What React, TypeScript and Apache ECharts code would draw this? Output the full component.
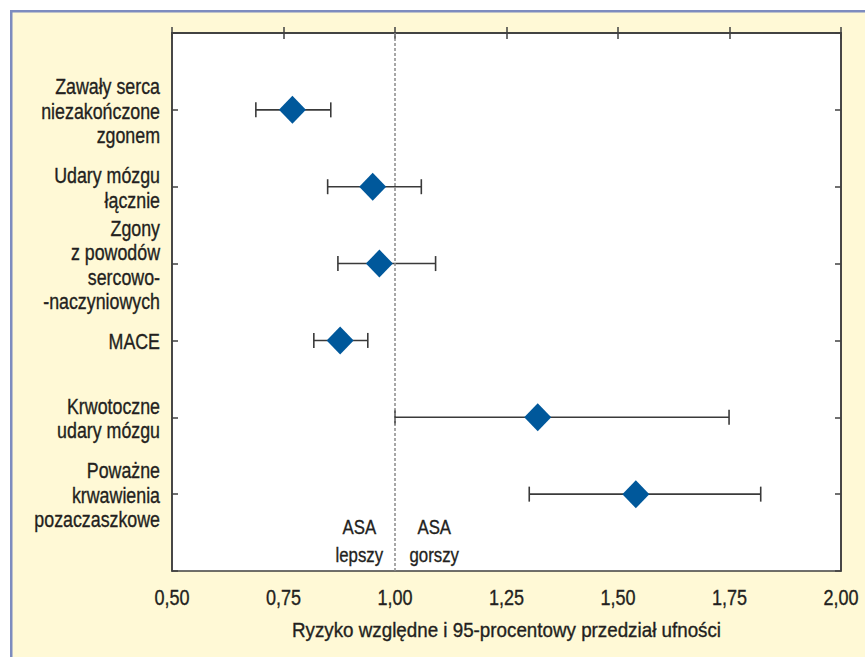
import React, { useEffect, useRef } from "react";
import * as echarts from "echarts";

const categories = [
  "Zawały serca\nniezakończone\nzgonem",
  "Udary mózgu\nłącznie",
  "Zgony\nz powodów\nsercowo-\n-naczyniowych",
  "MACE",
  "Krwotoczne\nudary mózgu",
  "Poważne\nkrwawienia\npozaczaszkowe",
];
const rowPositions = [1, 2, 3, 4, 5, 6];
const riskRatio = [0.77, 0.95, 0.965, 0.877, 1.32, 1.54];
const ciLow = [0.688, 0.849, 0.872, 0.818, 1.0, 1.301];
const ciHigh = [0.856, 1.059, 1.091, 0.939, 1.749, 1.82];
const xTicks = [0.5, 0.75, 1.0, 1.25, 1.5, 1.75, 2.0];
const referenceValue = 1.0;
const annotations = [
  { x: 0.92, y: 6.61, text: "ASA\nlepszy" },
  { x: 1.088, y: 6.61, text: "ASA\ngorszy" },
];
const xAxisName = "Ryzyko względne i 95-procentowy przedział ufności";

const FONT = "'Liberation Sans', Arial, Helvetica, sans-serif";
const TEXT = "#231f20";
const AXIS = "#404040";

export default function App() {
  const ref = useRef<HTMLDivElement>(null);
  useEffect(() => {
    if (!ref.current) return;
    const chart = echarts.init(ref.current, null, { renderer: "svg" });
    const fmt = (v: number) => v.toFixed(2).replace(".", ",");
    const axisCommon = {
      type: "value",
      axisLine: { show: true, lineStyle: { color: AXIS, width: 1.6 } },
      axisTick: { show: true, inside: true, length: 6, lineStyle: { color: AXIS, width: 1.5 } },
      splitLine: { show: false },
      axisLabel: { show: false },
    };
    chart.setOption({
      animation: false,
      backgroundColor: "#ffffff",
      grid: {
        left: 172,
        top: 33,
        width: 669,
        height: 538,
        show: true,
        backgroundColor: "#ffffff",
        borderColor: AXIS,
        borderWidth: 1.6,
      },
      xAxis: [
        { ...axisCommon, min: xTicks[0], max: xTicks[xTicks.length - 1], interval: 0.25, position: "bottom" },
        { ...axisCommon, min: xTicks[0], max: xTicks[xTicks.length - 1], interval: 0.25, position: "top" },
      ],
      yAxis: [
        { ...axisCommon, min: 0, max: 7, interval: 1, inverse: true, position: "left" },
        { ...axisCommon, min: 0, max: 7, interval: 1, inverse: true, position: "right" },
      ],
      series: [
        {
          type: "custom",
          xAxisIndex: 0,
          yAxisIndex: 0,
          data: rowPositions.map((y, i) => [ciLow[i], ciHigh[i], y]),
          encode: { x: [0, 1], y: 2 },
          renderItem: (params: any, api: any) => {
            const lo = api.coord([api.value(0), api.value(2)]);
            const hi = api.coord([api.value(1), api.value(2)]);
            const cap = 7.5;
            const style = { stroke: "#3a3a3a", lineWidth: 1.6 };
            return {
              type: "group",
              children: [
                { type: "line", shape: { x1: lo[0], y1: lo[1], x2: hi[0], y2: hi[1] }, style },
                { type: "line", shape: { x1: lo[0], y1: lo[1] - cap, x2: lo[0], y2: lo[1] + cap }, style },
                { type: "line", shape: { x1: hi[0], y1: hi[1] - cap, x2: hi[0], y2: hi[1] + cap }, style },
              ],
            };
          },
          markLine: {
            silent: true,
            symbol: "none",
            label: { show: false },
            lineStyle: { color: "#8a8a8a", type: [3, 2], width: 1.5 },
            data: [{ xAxis: referenceValue }],
          },
          z: 2,
        },
        {
          type: "scatter",
          xAxisIndex: 0,
          yAxisIndex: 0,
          symbol: "diamond",
          symbolSize: [27, 28],
          itemStyle: { color: "#00589b", opacity: 1 },
          data: rowPositions.map((y, i) => [riskRatio[i], y]),
          z: 3,
        },
      ],
    });

    const px = (x: number, y: number) =>
      chart.convertToPixel({ xAxisIndex: 0, yAxisIndex: 0 }, [x, y]) as number[];
    const graphics: any[] = [
      { type: "rect", id: "bg", shape: { x: 10, y: 10, width: 900, height: 700 }, style: { fill: "#fff9d6" }, z: -10 },
      { type: "rect", id: "bt", shape: { x: 10, y: 10, width: 900, height: 2.5 }, style: { fill: "#7d8cbf" }, z: -9 },
      { type: "rect", id: "bl", shape: { x: 10, y: 10, width: 2.5, height: 700 }, style: { fill: "#7d8cbf" }, z: -9 },
    ];
    const textEl = (id: string, x: number, y: number, text: string, size: number, scaleX: number, align: string, lineHeight: number) => ({
      type: "text",
      id,
      x,
      y,
      scaleX,
      z: 10,
      style: {
        text,
        fill: TEXT,
        stroke: TEXT,
        lineWidth: 0.35,
        fontFamily: FONT,
        fontSize: size,
        lineHeight,
        align,
        textAlign: align,
        verticalAlign: "middle",
        textVerticalAlign: "middle",
      },
    });
    const left = px(xTicks[0], 0)[0];
    const right = px(xTicks[xTicks.length - 1], 0)[0];
    const bottom = px(xTicks[0], 7)[1];
    rowPositions.forEach((r, i) => {
      const p = px(xTicks[0], r);
      graphics.push(textEl("yl" + i, left - 12, p[1] + 1, categories[i], 22, 0.81, "right", 24.5));
    });
    xTicks.forEach((t, i) => {
      const p = px(t, 7);
      graphics.push(textEl("xl" + i, p[0], bottom + 26, fmt(t), 22, 0.82, "center", 24));
    });
    graphics.push(textEl("xname", (left + right) / 2, bottom + 59, xAxisName, 20, 0.94, "center", 24));
    annotations.forEach((a, i) => {
      const p = px(a.x, a.y);
      graphics.push(textEl("an" + i, p[0], p[1], a.text, 21, 0.8, "center", 28));
    });
    chart.setOption({ graphic: graphics });
    return () => chart.dispose();
  }, []);
  return (
    <div
      ref={ref}
      style={{ position: "fixed", left: 0, top: 0, width: 865, height: 657 }}
    />
  );
}
